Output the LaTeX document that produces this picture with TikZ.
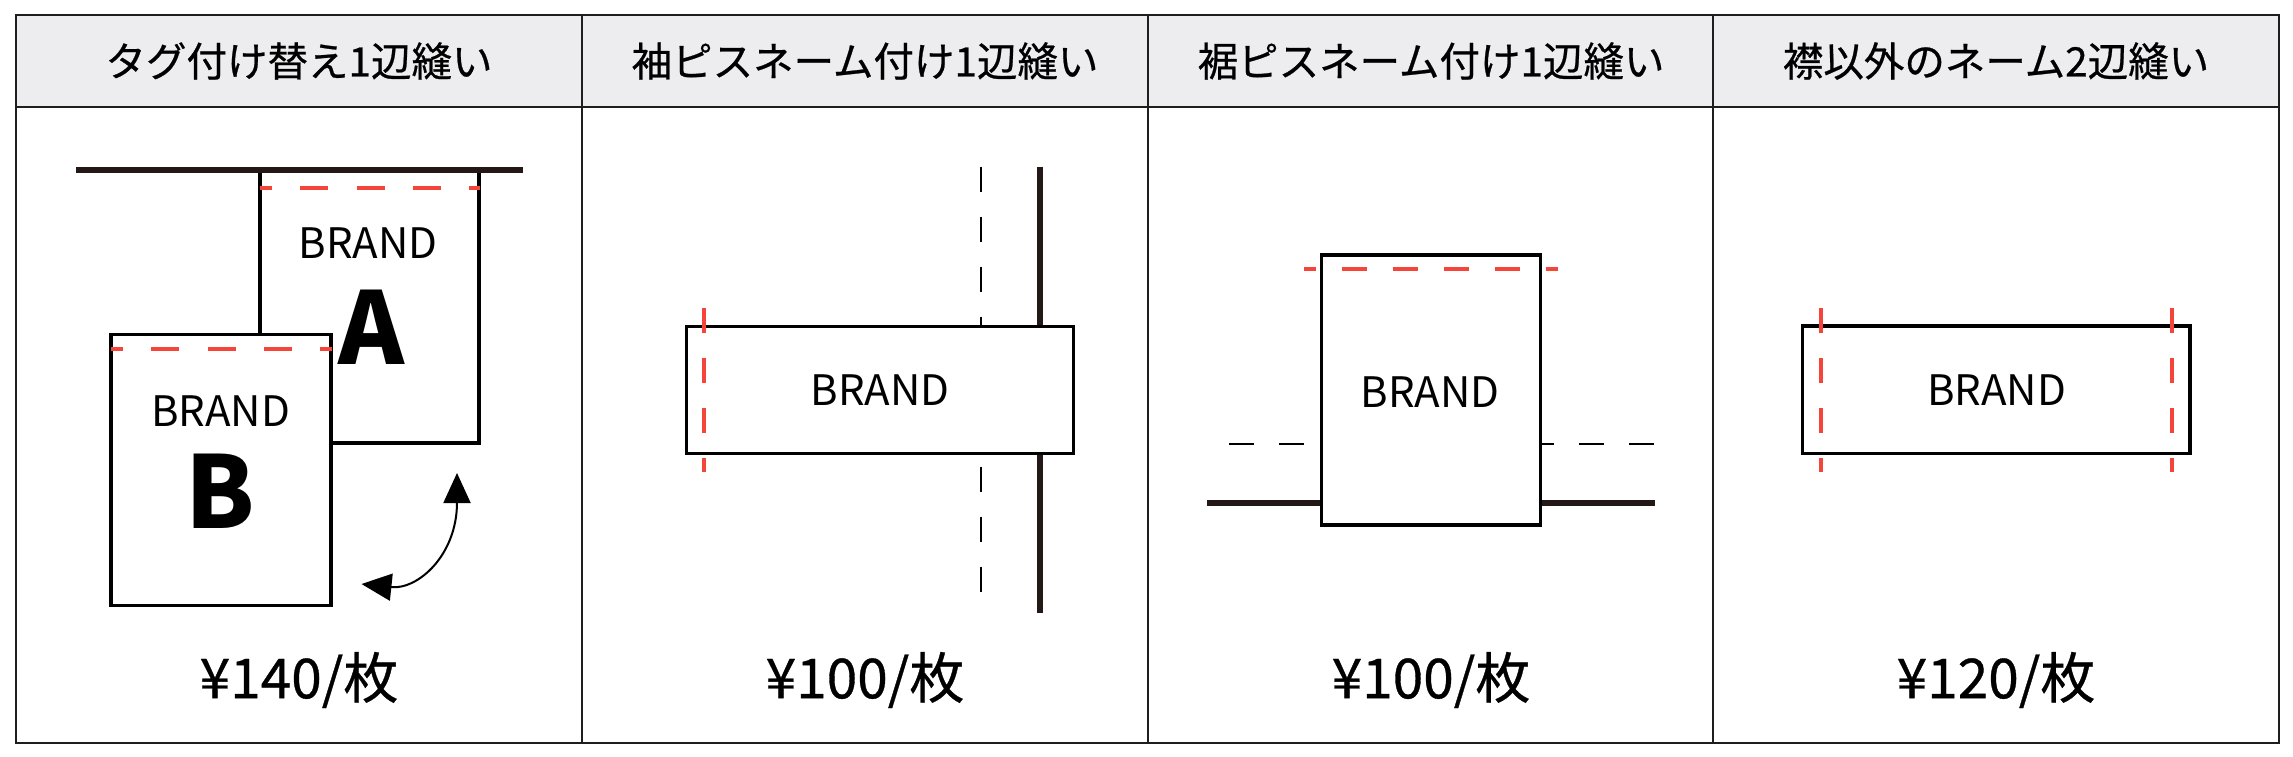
\documentclass[tikz,border=0pt]{standalone}
\usepackage{fontspec}
\setmainfont{Noto Sans CJK JP}
\newfontfamily\medjp{Noto Sans CJK JP}[FakeBold=0.6]
\usetikzlibrary{arrows.meta}
\definecolor{sewred}{HTML}{F5443A}
\definecolor{hang}{HTML}{231815}
\definecolor{hdrgray}{HTML}{EDEDEF}
\definecolor{frame}{HTML}{1E1E1E}
\tikzset{
  hdr/.style={font=\medjp\fontsize{40.5}{44}\selectfont, inner sep=0pt, anchor=center},
  price/.style={font=\medjp\fontsize{55}{62}\selectfont, inner sep=0pt, anchor=center},
  brand/.style={font=\fontsize{42}{46}\selectfont, inner sep=0pt, anchor=center},
  bigletter/.style={font=\fontsize{100}{110}\selectfont\bfseries, inner sep=0pt, anchor=center},
  tagbox/.style={draw=black, line width=3.3pt, fill=white, inner sep=0pt, outer sep=0pt, anchor=center},
  redseam/.style={draw=sewred, line width=4pt},
  bar/.style={draw=hang, line width=6pt},
  guide/.style={draw=black, line width=2pt, dash pattern=on 25pt off 25pt},
  tblline/.style={draw=frame, line width=2.4pt},
}
\begin{document}
\begin{tikzpicture}[x=1pt,y=-1pt]
\useasboundingbox (0,0) rectangle (2293,756);
% ---- table ----
\fill[hdrgray] (16,15) rectangle (2279,107);
\draw[tblline] (16,15) rectangle (2279,743);
\draw[tblline] (16,107) -- (2279,107);
\draw[tblline] (582,15) -- (582,743);
\draw[tblline] (1148,15) -- (1148,743);
\draw[tblline] (1713,15) -- (1713,743);
\node[hdr] (h1) at (299,61) {タグ付け替え1辺縫い};
\node[hdr] (h2) at (865,61) {袖ピスネーム付け1辺縫い};
\node[hdr] (h3) at (1431,61) {裾ピスネーム付け1辺縫い};
\node[hdr] (h4) at (1996,61) {襟以外のネーム2辺縫い};
\node[price] (p1) at (299,680) {¥140/枚};
\node[price] (p2) at (865,680) {¥100/枚};
\node[price] (p3) at (1431,680) {¥100/枚};
\node[price] (p4) at (1996,680) {¥120/枚};
% ---- panel 1 ----
\node[tagbox, minimum width=219, minimum height=272] (tagA) at (369.5,307) {};
\draw[bar] (76,169.5) -- (523,169.5);
\draw[redseam, dash pattern=on 28pt off 28.3pt, dash phase=16pt] (260,187.7) -- (480,187.7);
\node[brand] (brandA) at (368,243) {BRAND};
\node[bigletter] (letA) at (371,327) {A};
\node[tagbox, minimum width=220, minimum height=271] (tagB) at (221,469.7) {};
\draw[redseam, dash pattern=on 28pt off 28.3pt, dash phase=16pt] (111,349.3) -- (331.5,349.3);
\node[brand] (brandB) at (220.7,410.7) {BRAND};
\node[bigletter] (letB) at (220.7,491.7) {B};
\coordinate (arrS) at (457,473);
\coordinate (arrE) at (361.5,584);
\draw[line width=2pt, {Triangle[length=30pt,width=27pt]}-{Triangle[length=30pt,width=27pt]}]
  (arrS) .. controls (457,555) and (418,590) .. (arrE);
% ---- panel 2 ----
\draw[guide] (981,166.7) -- (981,592);
\draw[bar] (1040,166.7) -- (1040,613);
\node[tagbox, minimum width=386.7, minimum height=126.7] (tag2) at (880,390) {};
\draw[redseam, dash pattern=on 25pt off 25pt] (704.3,308.3) -- (704.3,471.7);
\node[brand] (brand2) at (880,390) {BRAND};
% ---- panel 3 ----
\draw[guide] (1229.3,444.3) -- (1654.5,444.3);
\draw[bar] (1207,502.7) -- (1655,502.7);
\node[tagbox, minimum width=219, minimum height=270] (tag3) at (1431.2,390) {};
\draw[redseam, dash pattern=on 25.7pt off 25.3pt, dash phase=13.3pt] (1304,269.3) -- (1558.3,269.3);
\node[brand] (brand3) at (1430,391.7) {BRAND};
% ---- panel 4 ----
\node[tagbox, minimum width=387.4, minimum height=127.4] (tag4) at (1996.3,389.7) {};
\draw[redseam, dash pattern=on 25pt off 25pt] (1820.7,308.3) -- (1820.7,471.7);
\draw[redseam, dash pattern=on 25pt off 25pt] (2172.3,308.3) -- (2172.3,471.7);
\node[brand] (brand4) at (1996.7,390) {BRAND};
\end{tikzpicture}
\end{document}
